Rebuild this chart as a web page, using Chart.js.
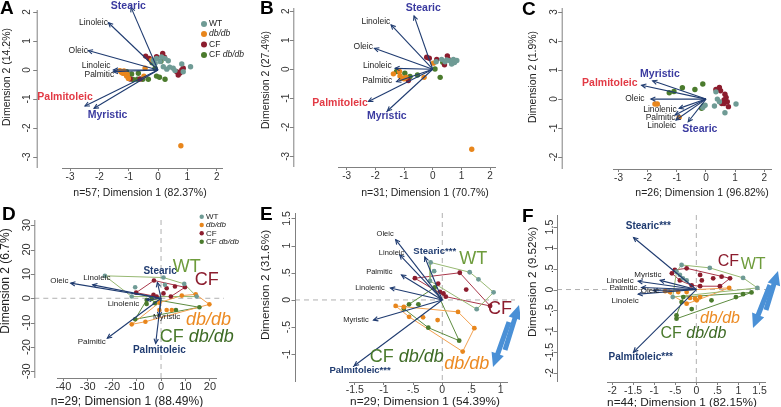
<!DOCTYPE html>
<html><head><meta charset="utf-8">
<script src="https://cdn.jsdelivr.net/npm/chart.js@4"></script>
<style>
html,body{margin:0;padding:0;background:#fff;width:781px;height:407px;overflow:hidden}
canvas{position:absolute}
</style></head><body>
<canvas id="cA" width="260" height="200" style="left:0px;top:0px"></canvas>
<canvas id="cB" width="260" height="200" style="left:260px;top:0px"></canvas>
<canvas id="cC" width="261" height="200" style="left:520px;top:0px"></canvas>
<canvas id="cD" width="260" height="207" style="left:0px;top:200px"></canvas>
<canvas id="cE" width="260" height="207" style="left:260px;top:200px"></canvas>
<canvas id="cF" width="261" height="207" style="left:520px;top:200px"></canvas>
<script>
// ---------------- DATA ----------------
const GROUPS = ['WT', 'db/db', 'CF', 'CF db/db'];

// Panel A (n=57)
const A_XTICKS = [-3, -2, -1, 0, 1, 2];
const A_YTICKS = [-3, -2, -1, 0, 1, 2];
const A_WT = [[-0.16,0.34],[-0.05,0.40],[0.07,0.29],[0.24,0.40],[0.35,0.32],[0.18,0.11],[0.30,0.03],[0.52,0.06],[0.58,-0.02],[0.81,0.21],[1.11,0.11],[-0.10,0.23],[0.86,-0.06],[0.12,0.45],[0.40,0.10]];
const A_DB = [[-0.44,0.06],[-1.16,-0.03],[-1.20,-0.11],[-1.07,-0.21],[-1.01,-0.29],[-1.30,-0.02],[-0.48,-0.21],[-0.22,0.34],[0.78,-2.61],[-1.12,-0.13],[-1.25,-0.08],[-1.05,-0.15]];
const A_CF = [[-0.42,0.48],[0.16,0.57],[0.22,0.44],[-0.05,0.46],[0.69,-0.17],[0.86,0.06],[0.81,0.00],[0.64,-0.06],[-0.61,-0.31],[-0.95,-0.31],[0.75,-0.10],[-0.30,0.40]];
const A_CFDB = [[-0.10,0.06],[-0.67,-0.11],[-0.90,-0.14],[-0.33,-0.32],[-0.05,-0.21],[0.05,-0.25],[0.24,-0.32],[-0.70,-0.32],[-1.07,-0.06],[-0.52,-0.32],[-0.85,-0.33],[0.10,0.30],[-0.20,0.25]];
const A_VARS = ['Stearic','Linoleic','Oleic','Linoleic','Palmitic','Palmitoleic','Myristic'];
const A_TIPX = [-0.92,-1.69,-2.38,-1.52,-1.52,-2.49,-2.18];
const A_TIPY = [2.16,1.63,0.67,0.00,-0.06,-1.24,-1.32];

// Panel B (n=31)
const B_XTICKS = [-3, -2, -1, 0, 1, 2];
const B_YTICKS = [-3, -2, -1, 0, 1, 2];
const B_WT = [[0.12,0.26],[0.31,0.34],[0.43,0.26],[0.60,0.29],[0.72,0.34],[0.76,0.23],[0.66,0.18],[0.49,0.32],[0.84,0.30]];
const B_DB = [[-1.37,-0.16],[-1.16,-0.08],[-1.14,-0.23],[-1.08,-0.31],[-1.00,-0.33],[-0.93,-0.28],[-0.30,-0.28],[0.02,0.21],[1.36,-2.76]];
const B_CF = [[-0.21,0.41],[-0.12,0.38],[0.14,0.34],[0.51,0.46],[0.55,0.34],[0.41,0.15],[-0.85,-0.39],[0.70,0.26]];
const B_CFDB = [[-1.26,-0.08],[-0.97,-0.14],[-0.53,-0.20],[0.08,0.01],[0.26,-0.28],[0.35,0.24],[-0.79,-0.25]];
const B_VARS = ['Stearic','Linoleic','Oleic','Linoleic','Palmitic','Palmitoleic','Myristic'];
const B_TIPX = [-0.65,-1.45,-2.03,-1.31,-1.26,-2.24,-1.58];
const B_TIPY = [1.84,1.53,0.72,0.03,-0.43,-1.11,-1.44];

// Panel C (n=26)
const C_XTICKS = [-3, -2, -1, 0, 1, 2];
const C_YTICKS = [-2, -1, 0, 1, 2, 3];
const C_WT = [[0.34,0.25],[0.39,0.00],[0.29,-0.24],[-0.11,-0.29],[-0.03,-0.21],[0.65,-0.47],[1.03,-0.17],[0.46,-0.09]];
const C_DB = [[-1.75,-0.17],[-1.67,-0.17],[-0.92,-0.63]];
const C_CF = [[0.34,0.33],[0.46,0.40],[0.50,0.29],[0.65,0.17],[0.69,0.06],[0.62,-0.03],[0.73,-0.09],[0.77,-0.26],[0.54,-0.15],[0.62,-0.15]];
const C_CFDB = [[-1.26,0.22],[-1.10,0.26],[-0.81,0.39],[-0.38,0.33],[-0.11,0.52],[-0.15,-0.32],[-0.09,-0.24]];
const C_VARS = ['Myristic','Palmitoleic','Oleic','Linolenic','Palmitic','Linoleic','Stearic'];
const C_TIPX = [-1.83,-2.21,-1.89,-0.92,-1.06,-1.03,-0.61];
const C_TIPY = [0.63,0.48,0.00,-0.32,-0.55,-0.72,-0.78];

// Panel D (n=29)
const D_XTICKS = [-40, -30, -20, -10, 0, 10, 20];
const D_YTICKS = [-30, -20, -10, 0, 10, 20, 30];
const D_WT = [[-10.6,4.5],[-12,0.7],[1,8.5],[1.6,5.5],[9.5,5.9],[14.6,0.7],[-23,9.2]];
const D_DB = [[-12,-10.7],[-6.4,-9.6],[-0.7,-4.8],[2.3,-4.8],[8.5,1.1],[14.2,1.6],[19.8,-2.5],[-0.7,-1.8],[4.4,-4.8]];
const D_CF = [[-2.9,7.3],[5.7,4.8],[9.8,4.5],[-10.2,2.3],[-3.1,1.4],[-1.8,0.7],[2.3,4.1],[4,0.7],[1,2]];
const D_CFDB = [[-5.9,-0.7],[-5.9,-2.3],[-3.8,-0.3],[-2.5,-2],[6.1,-4.8],[15.7,-3.7],[-10.6,-8.6]];
const D_VARS = ['Stearic','Oleic','Linoleic','Linolenic','Myristic','Palmitic','Palmitoleic'];
const D_TIPX = [-1.5,-37,-28,-6,-0.8,-22,-2.2];
const D_TIPY = [6.5,6.2,5.5,-0.6,-7.5,-16.4,-18.5];

// Panel E (n=29)
const E_XTICKS = [-1.5, -1, -0.5, 0, 0.5, 1];
const E_YTICKS = [-1, -0.5, 0, 0.5, 1, 1.5];
const E_WT = [[-0.2,0.69],[-0.14,0.53],[-0.21,0.35],[0.47,0.51],[0.62,0.38],[0.88,0.14],[0.59,-0.17]];
const E_DB = [[-0.8,-0.11],[-0.66,-0.13],[-0.57,-0.31],[-0.33,-0.32],[-0.08,-0.37],[0.27,-0.22],[0.55,-0.52],[0.35,-0.95]];
const E_CF = [[-0.47,0.40],[0.30,0.50],[-0.07,0.30],[0.41,0.19],[-0.04,0.15],[0.02,0.12],[0.06,0.06],[0.82,-0.11]];
const E_CFDB = [[-0.13,0.23],[-0.41,-0.08],[-0.57,-0.08],[-0.66,-0.16],[-0.24,-0.51],[0.29,-0.75]];
const E_VARS = ['Oleic','Linoleic','Stearic***','Palmitic','Linolenic','Myristic','Palmitoleic***'];
const E_TIPX = [-0.80,-0.73,-0.30,-0.70,-0.89,-1.18,-1.51];
const E_TIPY = [1.11,0.83,0.79,0.46,0.22,-0.37,-1.21];

// Panel F (n=44)
const F_XTICKS = [-2, -1.5, -1, -0.5, 0, 0.5, 1, 1.5];
const F_YTICKS = [-2, -1.5, -1, -0.5, 0, 0.5, 1, 1.5];
const F_WT = [[-0.35,0.59],[-0.32,0.27],[-0.23,0.22],[0.32,0.52],[1.11,0.28],[1.45,0.04],[-0.56,-0.18],[-0.39,0.35],[-0.47,0.43]];
const F_DB = [[-0.74,-0.04],[-0.62,-0.06],[-0.43,-0.06],[-0.23,-0.06],[-0.03,-0.22],[0.01,-0.26],[0.09,-0.18],[0.78,0.04],[-0.15,-0.20],[-0.23,-0.34]];
const F_CF = [[-0.58,0.39],[-0.51,0.47],[-0.23,0.51],[0.09,0.35],[0.13,0.22],[0.40,0.27],[0.60,0.31],[0.80,0.27],[-0.39,0.22],[-0.11,0.10],[0.09,0.08],[0.56,0.08]];
const F_CFDB = [[-0.35,-0.30],[-0.47,-0.62],[-0.47,-0.70],[-0.11,-0.47],[0.94,-0.18],[1.11,-0.11],[1.31,-0.07],[-0.31,-0.18],[0.36,-0.26]];
const F_VARS = ['Stearic***','Myristic','Linoleic','Palmitic','Oleic','Linoleic','Palmitoleic***'];
const F_TIPX = [-1.49,-0.86,-1.38,-1.30,-1.02,-1.38,-1.49];
const F_TIPY = [1.25,0.22,0.20,0.05,-0.02,-0.11,-1.50];

// ---------------- STYLE / LAYOUT ----------------
const FONT = '"Liberation Sans", Arial, Helvetica, sans-serif';
const COL = {WT:'#6f9b95', DB:'#e8861c', CF:'#8c1d2e', CFDB:'#4b7b2d'};
const HULLC = {WT:'#97b872', DB:'#f2a04e', CF:'#a8374a', CFDB:'#5e8c40'};
const NAVY = '#1f3b70';
const AXC = '#808080';

const PANELS = [
 {key:'A', id:'cA', w:260, h:200, area:{left:62,right:222,top:10,bottom:168}, yAxisX:36.7, yLabelX:27,
  xmin:-3.273, xmax:2.182, ymin:-3.379, ymax:2.069, xticks:A_XTICKS, yticks:A_YTICKS, tick:10, xPad:0,
  groups:[A_WT,A_DB,A_CF,A_CFDB], vars:A_VARS, tipx:A_TIPX, tipy:A_TIPY,
  lab:[[-1.01,2.21],[-2.2,1.64],[-2.72,0.66],[-2.11,0.15],[-2.0,-0.17],[-3.17,-0.92],[-1.72,-1.55]],
  style:'abc', r:2.7, xtitle:'n=57; Dimension 1 (82.37%)', ytitle:'Dimension 2 (14.2%)', titleSize:10.5,
  xt:[140,193], yt:[7,77], letter:[0,14], legend:{mx:204, tx:209, ys:[24,34,44.5,55], r:3, size:8.5}},
 {key:'B', id:'cB', w:260, h:200, area:{left:78,right:235,top:8,bottom:167}, yAxisX:33.3, yLabelX:26.7,
  xmin:-3.30, xmax:2.17, ymin:-3.37, ymax:2.11, xticks:B_XTICKS, yticks:B_YTICKS, tick:10, xPad:0,
  groups:[B_WT,B_DB,B_CF,B_CFDB], vars:B_VARS, tipx:B_TIPX, tipy:B_TIPY,
  lab:[[-0.33,2.1],[-1.98,1.64],[-2.42,0.78],[-1.93,0.11],[-1.93,-0.39],[-3.23,-1.17],[-1.6,-1.63]],
  style:'abc', r:2.7, xtitle:'n=31; Dimension 1 (70.7%)', ytitle:'Dimension 2 (27.4%)', titleSize:10.5,
  xt:[165,193], yt:[6,80], letter:[0,14]},
 {key:'C', id:'cC', w:261, h:200, area:{left:93,right:251,top:8,bottom:169}, yAxisX:41.7, yLabelX:34,
  xmin:-3.19, xmax:2.23, ymin:-2.41, ymax:3.14, xticks:C_XTICKS, yticks:C_YTICKS, tick:10, xPad:0,
  groups:[C_WT,C_DB,C_CF,C_CFDB], vars:C_VARS, tipx:C_TIPX, tipy:C_TIPY,
  lab:[[-1.58,0.86],[-3.3,0.54],[-2.44,0],[-1.58,-0.36],[-1.56,-0.64],[-1.52,-0.93],[-0.21,-1.05]],
  style:'abc', r:2.7, xtitle:'n=26; Dimension 1 (96.82%)', ytitle:'Dimension 2 (1.9%)', titleSize:10.5,
  xt:[182,193], yt:[13,77], letter:[2,15]},
 {key:'D', id:'cD', w:260, h:207, area:{left:57,right:216,top:20,bottom:178}, yAxisX:34.3, yLabelX:26.7,
  xmin:-42.6, xmax:22.5, ymin:-32.7, ymax:32.1, xticks:D_XTICKS, yticks:D_YTICKS, tick:11, xPad:-1,
  groups:[D_WT,D_DB,D_CF,D_CFDB], vars:D_VARS, tipx:D_TIPX, tipy:D_TIPY,
  lab:[[-0.4,11],[-41.6,7.1],[-26.3,8.5],[-15.4,-2.3],[2.3,-7.8],[-28.4,-17.8],[-0.7,-21.2]],
  style:'def', bold:10, reg:8, r:2.3, hull:true, xtitle:'n=29; Dimension 1 (88.49%)', ytitle:'Dimension 2 (6.7%)', titleSize:12,
  xt:[127,202], yt:[6,81], letter:[2,20], legend:{mx:201.7, tx:206, ys:[16.7,25,33.3,41.7], r:2.2, size:8},
  gl:{WT:[10.5,13], CF:[18.7,7.5], DB:[19.4,-8.9], CFDB:[14.6,-15.8]}, glSize:18},
 {key:'E', id:'cE', w:260, h:207, area:{left:89,right:247,top:13,bottom:182}, yAxisX:35, yLabelX:26.7,
  xmin:-1.60, xmax:1.11, ymin:-1.51, ymax:1.60, xticks:E_XTICKS, yticks:E_YTICKS, tick:10.5, xPad:-1.5,
  groups:[E_WT,E_DB,E_CF,E_CFDB], vars:E_VARS, tipx:E_TIPX, tipy:E_TIPY,
  lab:[[-0.98,1.22],[-0.87,0.86],[-0.13,0.9],[-1.08,0.52],[-1.24,0.23],[-1.48,-0.37],[-1.41,-1.29]],
  style:'def', bold:9.5, reg:7.5, r:2.4, hull:true, xtitle:'n=29; Dimension 1 (54.39%)', ytitle:'Dimension 2 (31.6%)', titleSize:11.8,
  xt:[165,202], yt:[6,85], letter:[0,20],
  gl:{WT:[0.53,0.76], CF:[0.99,-0.16], DB:[0.42,-1.17], CFDB:[-0.61,-1.05]}, glSize:18,
  blue:[[245,150,259,105],[249,122,233,167]]},
 {key:'F', id:'cF', w:261, h:207, area:{left:87,right:245,top:15,bottom:182}, yAxisX:37, yLabelX:30,
  xmin:-2.12, xmax:1.63, ymin:-2.22, ymax:1.79, xticks:F_XTICKS, yticks:F_YTICKS, tick:10.5, xPad:0,
  groups:[F_WT,F_DB,F_CF,F_CFDB], vars:F_VARS, tipx:F_TIPX, tipy:F_TIPY,
  lab:[[-1.14,1.53],[-1.15,0.35],[-1.81,0.21],[-1.73,0.05],[-1.1,-0.02],[-1.69,-0.26],[-1.32,-1.62]],
  style:'def', bold:10, reg:8, r:2.4, hull:true, xtitle:'n=44; Dimension 1 (82.15%)', ytitle:'Dimension 2 (9.52%)', titleSize:11.8,
  xt:[162,202.5], yt:[13,82], letter:[2,22],
  gl:{WT:[1.35,0.59], CF:[0.76,0.67], DB:[0.56,-0.70], CFDB:[-0.07,-1.06]}, glSize:16,
  blue:[[246,110,258,71],[250,85,233,128]]}
];

const GKEYS = ['WT','DB','CF','CFDB'];
const fmt = v => String(+v.toFixed(4)).replace(/^(-?)0\./, '$1.');
const toPts = arr => arr.map(a => ({x:a[0], y:a[1]}));

function hull(pts){
  const p = pts.map(a=>({x:a[0],y:a[1]})).sort((a,b)=>a.x-b.x||a.y-b.y);
  const cross=(o,a,b)=>(a.x-o.x)*(b.y-o.y)-(a.y-o.y)*(b.x-o.x);
  const lower=[],upper=[];
  for(const q of p){while(lower.length>=2&&cross(lower[lower.length-2],lower[lower.length-1],q)<=0)lower.pop();lower.push(q);}
  for(let i=p.length-1;i>=0;i--){const q=p[i];while(upper.length>=2&&cross(upper[upper.length-2],upper[upper.length-1],q)<=0)upper.pop();upper.push(q);}
  upper.pop();lower.pop();
  const h=lower.concat(upper); h.push(h[0]); return h;
}

function fatArrow(ctx,x1,y1,x2,y2,sw,hl,hw){
  const dx=x2-x1, dy=y2-y1, len=Math.hypot(dx,dy), ux=dx/len, uy=dy/len, nx=-uy, ny=ux;
  const bx=x2-ux*hl, by=y2-uy*hl;
  ctx.beginPath();
  ctx.moveTo(x1+nx*sw/2, y1+ny*sw/2);
  ctx.lineTo(bx+nx*sw/2, by+ny*sw/2);
  ctx.lineTo(bx+nx*hw/2, by+ny*hw/2);
  ctx.lineTo(x2,y2);
  ctx.lineTo(bx-nx*hw/2, by-ny*hw/2);
  ctx.lineTo(bx-nx*sw/2, by-ny*sw/2);
  ctx.lineTo(x1-nx*sw/2, y1-ny*sw/2);
  ctx.closePath(); ctx.fill();
}

function varStyle(p, name){
  const base = name.replace(/\*+$/,'');
  if (p.style === 'abc') {
    if (base === 'Stearic' || base === 'Myristic') return {font:`bold 10.5px ${FONT}`, color:'#3b3ba0'};
    if (base === 'Palmitoleic') return {font:`bold 10.5px ${FONT}`, color:'#e23a45'};
    return {font:`8.5px ${FONT}`, color:'#222'};
  }
  if (base === 'Stearic' || base === 'Palmitoleic') return {font:`bold ${p.bold}px ${FONT}`, color:NAVY};
  return {font:`${p.reg}px ${FONT}`, color:'#222'};
}

function drawMixed(ctx, parts, cx, cy){
  let total = 0;
  parts.forEach(pt => { ctx.font = pt.font; pt.w = ctx.measureText(pt.text).width; total += pt.w; });
  let x = cx - total/2;
  ctx.textAlign = 'left'; ctx.textBaseline = 'middle';
  parts.forEach(pt => { ctx.font = pt.font; ctx.fillStyle = pt.color; ctx.fillText(pt.text, x, cy); x += pt.w; });
}

function panelPlugin(p){
  return {
    id: 'panel' + p.key,
    beforeDatasetsDraw(chart){
      const {ctx, chartArea:a, scales:{x, y}} = chart;
      if (p.hull) {
        ctx.save();
        ctx.strokeStyle = '#b0b0b0'; ctx.lineWidth = 1; ctx.setLineDash([5,4]);
        const x0 = x.getPixelForValue(0), y0 = y.getPixelForValue(0);
        ctx.beginPath(); ctx.moveTo(x0, a.top); ctx.lineTo(x0, a.bottom); ctx.stroke();
        ctx.beginPath(); ctx.moveTo(p.yAxisX, y0); ctx.lineTo(Math.min(p.w, a.right + 8), y0); ctx.stroke();
        ctx.restore();
      }
    },
    afterDatasetsDraw(chart){
      const {ctx, scales:{x, y}} = chart;
      ctx.save();
      ctx.strokeStyle = NAVY; ctx.lineWidth = 1.1;
      const ox = x.getPixelForValue(0), oy = y.getPixelForValue(0);
      p.tipx.forEach((tx, i) => {
        const px = x.getPixelForValue(tx), py = y.getPixelForValue(p.tipy[i]);
        const ang = Math.atan2(py - oy, px - ox), L = 5;
        ctx.beginPath();
        ctx.moveTo(px - L*Math.cos(ang - 0.45), py - L*Math.sin(ang - 0.45));
        ctx.lineTo(px, py);
        ctx.lineTo(px - L*Math.cos(ang + 0.45), py - L*Math.sin(ang + 0.45));
        ctx.stroke();
      });
      ctx.restore();
    },
    afterDraw(chart){
      const {ctx, chartArea:a, scales:{x, y}} = chart;
      ctx.save();
      ctx.strokeStyle = AXC; ctx.lineWidth = 1;
      ctx.beginPath(); ctx.moveTo(p.yAxisX + 0.5, a.top); ctx.lineTo(p.yAxisX + 0.5, a.bottom); ctx.stroke();
      y.ticks.forEach(t => {
        const py = Math.round(y.getPixelForValue(t.value)) + 0.5;
        ctx.beginPath(); ctx.moveTo(p.yAxisX + 0.5, py); ctx.lineTo(p.yAxisX - 3.5, py); ctx.stroke();
      });
      ctx.fillStyle = '#222'; ctx.textAlign = 'center'; ctx.textBaseline = 'middle';
      ctx.font = `${p.titleSize}px ${FONT}`;
      ctx.fillText(p.xtitle, p.xt[0], p.xt[1]);
      ctx.save(); ctx.translate(p.yt[0], p.yt[1]); ctx.rotate(-Math.PI/2); ctx.fillText(p.ytitle, 0, 0); ctx.restore();
      ctx.font = `bold 19px ${FONT}`; ctx.fillStyle = '#000'; ctx.textAlign = 'left'; ctx.textBaseline = 'alphabetic';
      ctx.fillText(p.key, p.letter[0], p.letter[1]);
      ctx.textAlign = 'center'; ctx.textBaseline = 'middle';
      p.vars.forEach((name, i) => {
        const st = varStyle(p, name);
        ctx.font = st.font; ctx.fillStyle = st.color;
        ctx.fillText(name, x.getPixelForValue(p.lab[i][0]), y.getPixelForValue(p.lab[i][1]));
      });
      if (p.gl) {
        const s = p.glSize;
        const reg = `${s}px ${FONT}`, ita = `italic ${s}px ${FONT}`;
        const P = k => [x.getPixelForValue(p.gl[k][0]), y.getPixelForValue(p.gl[k][1])];
        let q = P('WT'); drawMixed(ctx, [{text:'WT', font:reg, color:'#6e9c3c'}], q[0], q[1]);
        q = P('CF'); drawMixed(ctx, [{text:'CF', font:reg, color:COL.CF}], q[0], q[1]);
        q = P('DB'); drawMixed(ctx, [{text:'db/db', font:ita, color:'#ec8a22'}], q[0], q[1]);
        q = P('CFDB'); drawMixed(ctx, [{text:'CF ', font:reg, color:'#4b7b2d'}, {text:'db/db', font:ita, color:'#3d6a24'}], q[0], q[1]);
      }
      if (p.legend) {
        const L = p.legend;
        const cols = [COL.WT, COL.DB, COL.CF, COL.CFDB];
        const reg = `${L.size}px ${FONT}`, ita = `italic ${L.size}px ${FONT}`;
        const texts = [[{text:'WT', font:reg}], [{text:'db/db', font:ita}], [{text:'CF', font:reg}], [{text:'CF ', font:reg},{text:'db/db', font:ita}]];
        GROUPS.forEach((g, i) => {
          ctx.fillStyle = cols[i]; ctx.beginPath(); ctx.arc(L.mx, L.ys[i], L.r, 0, Math.PI*2); ctx.fill();
          let tx = L.tx; ctx.textAlign = 'left'; ctx.textBaseline = 'middle'; ctx.fillStyle = '#222';
          texts[i].forEach(t => { ctx.font = t.font; ctx.fillText(t.text, tx, L.ys[i]); tx += ctx.measureText(t.text).width; });
        });
      }
      if (p.blue) {
        ctx.fillStyle = '#4a90d6';
        p.blue.forEach(b => fatArrow(ctx, b[0], b[1], b[2], b[3], 5, 14, 13));
      }
      ctx.restore();
    }
  };
}

function makePanel(p){
  const canvas = document.getElementById(p.id);
  const ctx = canvas.getContext('2d');
  ctx.font = `${p.tick}px ${FONT}`;
  let widest = 0;
  p.yticks.forEach(v => { widest = Math.max(widest, ctx.measureText(fmt(v)).width); });
  const yPad = p.area.left - p.yLabelX - widest/2;
  const datasets = [];
  if (p.hull) {
    GKEYS.forEach((k, i) => datasets.push({data: hull(p.groups[i]), showLine:true, borderColor:HULLC[k], borderWidth:1,
      pointRadius:0, fill:false, tension:0, order:3, clip:false}));
  }
  GKEYS.forEach((k, i) => datasets.push({label: GROUPS[i], data: toPts(p.groups[i]), pointRadius:p.r, pointHoverRadius:p.r,
    backgroundColor:COL[k], borderWidth:0, showLine:false, order:2, clip:false}));
  p.tipx.forEach((tx, i) => datasets.push({label: p.vars[i], data:[{x:0,y:0},{x:tx,y:p.tipy[i]}], showLine:true,
    borderColor:NAVY, borderWidth:1.1, pointRadius:0, fill:false, order:1, clip:false}));
  new Chart(ctx, {
    type:'scatter',
    data:{datasets},
    options:{
      responsive:false, animation:false, events:[],
      layout:{padding:{left:0, top:p.area.top, right:p.w - p.area.right, bottom:0}},
      plugins:{legend:{display:false}, tooltip:{enabled:false}},
      scales:{
        x:{type:'linear', min:p.xmin, max:p.xmax, bounds:'data',
          afterBuildTicks: s => { s.ticks = p.xticks.map(v => ({value:v})); },
          afterFit: s => { s.height = p.h - p.area.bottom; s.paddingLeft = 0; s.paddingRight = 0; },
          grid:{display:true, drawOnChartArea:false, drawTicks:true, tickLength:3, color:AXC},
          border:{display:true, color:AXC, width:1},
          ticks:{autoSkip:false, maxRotation:0, minRotation:0, padding:p.xPad, color:'#333',
            font:{size:p.tick, family:FONT}, callback: v => fmt(v)}
        },
        y:{type:'linear', min:p.ymin, max:p.ymax, bounds:'data',
          afterBuildTicks: s => { s.ticks = p.yticks.map(v => ({value:v})); },
          afterFit: s => { s.width = p.area.left; s.paddingTop = 0; s.paddingBottom = 0; },
          grid:{display:false, drawOnChartArea:false, drawTicks:false},
          border:{display:false},
          ticks:{autoSkip:false, minRotation:90, maxRotation:90, crossAlign:'center', padding:yPad, color:'#333',
            font:{size:p.tick, family:FONT}, callback: v => fmt(v)}
        }
      }
    },
    plugins:[panelPlugin(p)]
  });
}

PANELS.forEach(makePanel);
</script>
</body></html>
